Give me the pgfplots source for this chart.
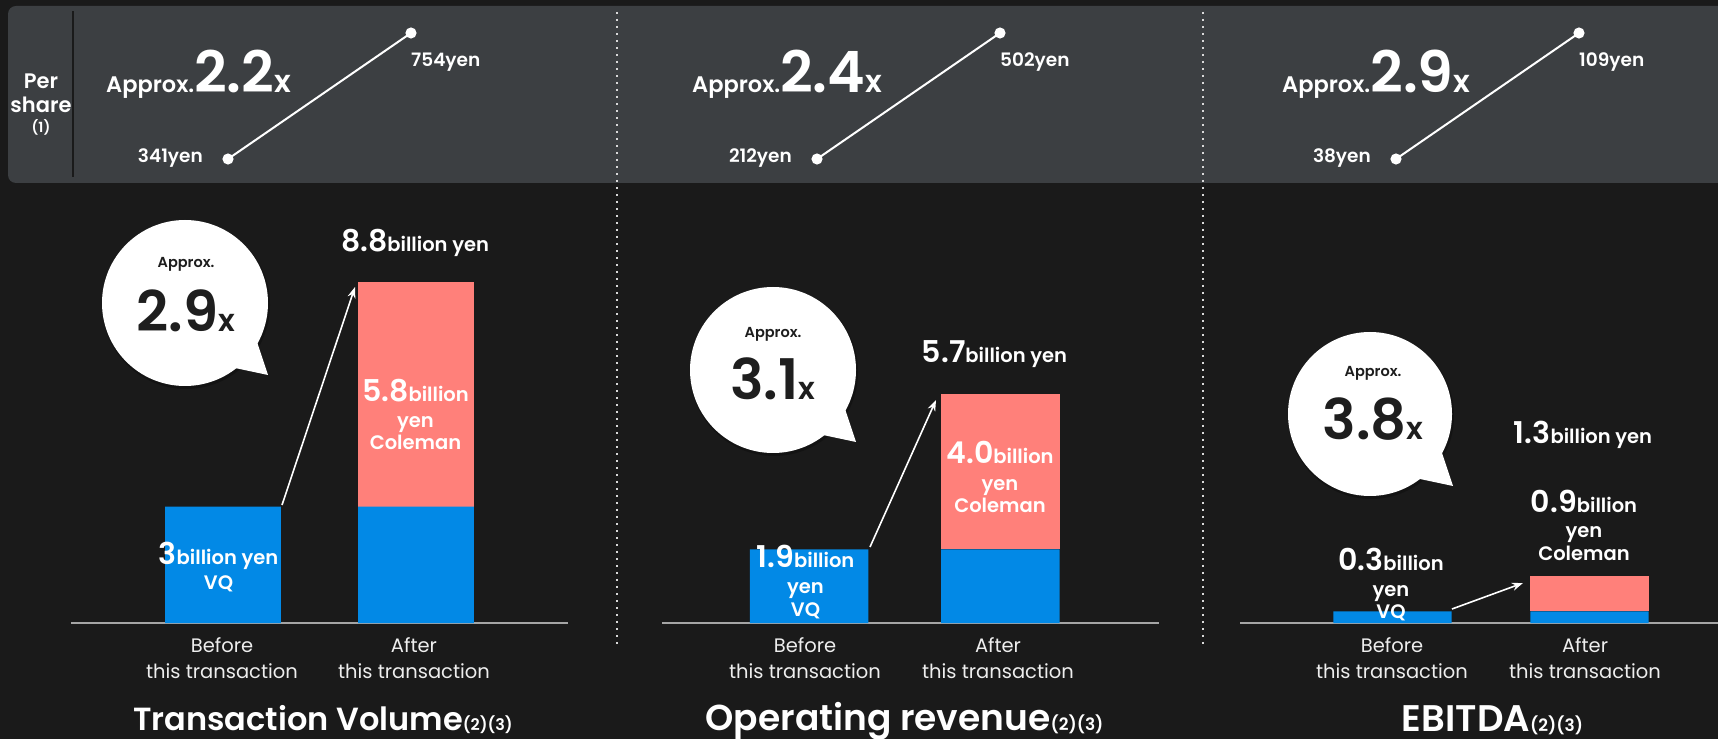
\documentclass[border=0pt]{standalone}
\usepackage{pgfplots}
\pgfplotsset{compat=1.18}
\usepackage{fontspec}
\setmainfont{Poppins}[BoldFont={* SemiBold}]
\usetikzlibrary{arrows.meta}
\definecolor{bg}{RGB}{26,26,26}
\definecolor{panel}{RGB}{60,63,66}
\definecolor{vqblue}{RGB}{2,137,230}
\definecolor{coleman}{RGB}{255,128,122}
\definecolor{basecol}{RGB}{165,165,165}
\definecolor{ink}{RGB}{30,30,30}
\definecolor{soft}{RGB}{238,238,238}
\newcommand{\fs}[1]{\fontsize{#1}{#1}\selectfont}
\newcommand{\lbl}[4]{\node[anchor=base, inner sep=0pt, text=white, font=#4] at (#1pt,{(739-#2)*1pt}) {#3};}
\newcommand{\bl}[2]{{\fs{30}\bfseries #1}{\fs{19.5}\bfseries #2}}
\newcommand{\bubble}[3]{%
  \fill[black, opacity=0.25] ({(#1+1)*1pt},{(#2-2)*1pt}) circle ({(#3+1)*1pt});
  \fill[white] (#1pt,#2pt) circle (#3pt);
  \fill[white] (#1pt,#2pt) -- ({(#1+72)*1pt},{(#2-39)*1pt}) -- ({(#1+83)*1pt},{(#2-72)*1pt}) -- ({(#1+50)*1pt},{(#2-65)*1pt}) -- cycle;}
\newcommand{\bubtext}[4]{%
  \node[anchor=base, inner sep=0pt, text=ink, font=\fs{14.5}\bfseries] at (#1pt,{(739-#2)*1pt}) {Approx.};
  \node[anchor=base, inner sep=0pt, text=ink] at (#1pt,{(739-#3)*1pt}) {{\fs{56}\bfseries #4}{\fs{31}\bfseries x}};}
\pgfplotsset{
  shareaxis/.style={anchor=south west, scale only axis, width=183pt, height=126pt,
    xmin=0, xmax=1, hide axis, clip=false},
  baraxis/.style={anchor=south west, scale only axis, width=497pt, height=388pt,
    ymin=0, ymax=10, hide y axis, axis x line=bottom,
    x axis line style={draw=basecol, line width=2pt, -}, xtick=\empty,
    ybar stacked, clip=false},
}
\begin{document}
\begin{tikzpicture}
\useasboundingbox (0pt,0pt) rectangle (1718pt,739pt);
\fill[bg] (0pt,0pt) rectangle (1718pt,739pt);
\fill[panel, rounded corners=8pt] (8pt,556pt) rectangle (1760pt,733pt);
\draw[line width=2pt, bg] (73pt,562pt) -- (73pt,728pt);
\foreach \xx in {617,1203}{
  \draw[line width=2pt, white!85!black, dash pattern=on 2pt off 5pt] (\xx pt,727pt) -- (\xx pt,93pt);}
% per share
\node[anchor=base, inner sep=0pt, text=white, font=\fs{21}\bfseries] at (41pt,650pt) {Per};
\node[anchor=base, inner sep=0pt, text=white, font=\fs{21}\bfseries] at (41pt,626pt) {share};
\node[anchor=base, inner sep=0pt, text=white, font=\fs{14}\bfseries] at (41pt,606pt) {(1)};

\begin{axis}[shareaxis, at={(228pt,580pt)}, ymin=341, ymax=754]
\addplot[white, line width=2pt, mark=*, mark size=4.5pt, mark options={fill=white}] coordinates {(0,341) (1,754)};
\node[anchor=base west, inner sep=0pt, text=white, font=\fs{18.5}\bfseries, yshift=-34pt] at (axis cs:1,754) {754yen};
\node[anchor=base east, inner sep=0pt, text=white, font=\fs{18.5}\bfseries, xshift=-25pt, yshift=-4pt] at (axis cs:0,341) {341yen};
\end{axis}
\begin{axis}[shareaxis, at={(817pt,580pt)}, ymin=212, ymax=502]
\addplot[white, line width=2pt, mark=*, mark size=4.5pt, mark options={fill=white}] coordinates {(0,212) (1,502)};
\node[anchor=base west, inner sep=0pt, text=white, font=\fs{18.5}\bfseries, yshift=-34pt] at (axis cs:1,502) {502yen};
\node[anchor=base east, inner sep=0pt, text=white, font=\fs{18.5}\bfseries, xshift=-25pt, yshift=-4pt] at (axis cs:0,212) {212yen};
\end{axis}
\begin{axis}[shareaxis, at={(1396pt,580pt)}, ymin=38, ymax=109]
\addplot[white, line width=2pt, mark=*, mark size=4.5pt, mark options={fill=white}] coordinates {(0,38) (1,109)};
\node[anchor=base west, inner sep=0pt, text=white, font=\fs{18.5}\bfseries, yshift=-34pt] at (axis cs:1,109) {109yen};
\node[anchor=base east, inner sep=0pt, text=white, font=\fs{18.5}\bfseries, xshift=-25pt, yshift=-4pt] at (axis cs:0,38) {38yen};
\end{axis}
\node[anchor=base west, inner sep=0pt, text=white] at (106pt,646pt) {{\fs{22.5}\bfseries Approx.}{\fs{57}\bfseries 2.2}{\fs{31}\bfseries x}};
\node[anchor=base west, inner sep=0pt, text=white] at (692pt,646pt) {{\fs{22.5}\bfseries Approx.}{\fs{57}\bfseries 2.4}{\fs{31}\bfseries x}};
\node[anchor=base west, inner sep=0pt, text=white] at (1282pt,646pt) {{\fs{22.5}\bfseries Approx.}{\fs{57}\bfseries 2.9}{\fs{31}\bfseries x}};

% bars
\begin{axis}[baraxis, at={(71pt,116pt)}, xmin=-0.788, xmax=1.788, bar width=0.6]
\addplot[fill=vqblue, draw=none] coordinates {(0,3) (1,3)};
\addplot[fill=coleman, draw=none] coordinates {(0,0) (1,5.8)};
\end{axis}
\begin{axis}[baraxis, at={(662pt,116pt)}, xmin=-0.77, xmax=1.83, bar width=0.62]
\addplot[fill=vqblue, draw=none] coordinates {(0,1.9) (1,1.9)};
\addplot[fill=coleman, draw=none] coordinates {(0,0) (1,4.0)};
\end{axis}
\begin{axis}[baraxis, at={(1240pt,116pt)}, xmin=-0.774, xmax=1.749, bar width=0.6]
\addplot[fill=vqblue, draw=none] coordinates {(0,0.3) (1,0.3)};
\addplot[fill=coleman, draw=none] coordinates {(0,0) (1,0.9)};
\end{axis}

% arrows
\draw[white, line width=1.6pt, -{Stealth[length=11pt, width=8pt]}] (282pt,234pt) -- (355pt,452pt);
\draw[white, line width=1.6pt, -{Stealth[length=11pt, width=8pt]}] (870pt,192pt) -- (936pt,339pt);
\draw[white, line width=1.6pt, -{Stealth[length=11pt, width=8pt]}] (1452pt,130pt) -- (1523pt,156pt);

% bubbles
\bubble{185}{436}{83}
\bubble{773}{369}{83}
\bubble{1370}{325}{82}
\bubtext{186}{268}{332}{2.9}
\bubtext{773}{338}{400}{3.1}
\bubtext{1373}{377}{440}{3.8}

% bar labels
\lbl{415}{252}{\bl{8.8}{billion yen}}{}
\lbl{415.5}{402}{\bl{5.8}{billion}}{}
\lbl{415.5}{428}{yen}{\fs{19.5}\bfseries}
\lbl{415.5}{450}{Coleman}{\fs{19.5}\bfseries}
\lbl{218.5}{565}{\bl{3}{billion yen}}{}
\lbl{218.5}{590}{VQ}{\fs{19.5}\bfseries}

\lbl{994.5}{363}{\bl{5.7}{billion yen}}{}
\lbl{1000}{464}{\bl{4.0}{billion}}{}
\lbl{1000}{491}{yen}{\fs{19.5}\bfseries}
\lbl{1000}{513}{Coleman}{\fs{19.5}\bfseries}
\lbl{805.5}{568}{\bl{1.9}{billion}}{}
\lbl{805.5}{594}{yen}{\fs{19.5}\bfseries}
\lbl{805.5}{617}{VQ}{\fs{19.5}\bfseries}

\lbl{1583}{444}{\bl{1.3}{billion yen}}{}
\lbl{1584}{513}{\bl{0.9}{billion}}{}
\lbl{1584}{538}{yen}{\fs{19.5}\bfseries}
\lbl{1584}{561}{Coleman}{\fs{19.5}\bfseries}
\lbl{1391}{571}{\bl{0.3}{billion}}{}
\lbl{1391}{597}{yen}{\fs{19.5}\bfseries}
\lbl{1391}{618}{VQ}{\fs{19.5}\bfseries}

% category labels
\foreach \cx/\lab in {222/Before,414/After,805/Before,998/After,1392/Before,1585/After}{
  \node[anchor=base, inner sep=0pt, text=soft, font=\fs{19.5}] at (\cx pt,87pt) {\lab};
  \node[anchor=base, inner sep=0pt, text=soft, font=\fs{19.5}] at (\cx pt,61pt) {this transaction};}

% titles
\node[anchor=base, inner sep=0pt, text=white] at (323pt,9pt) {{\fs{32}\bfseries Transaction Volume}{\fs{16}\bfseries (2)(3)}};
\node[anchor=base, inner sep=0pt, text=white] at (904.5pt,9pt) {{\fs{36}\bfseries Operating revenue}{\fs{17}\bfseries (2)(3)}};
\node[anchor=base, inner sep=0pt, text=white] at (1492.5pt,8pt) {{\fs{37}\bfseries EBITDA}{\fs{17}\bfseries (2)(3)}};
\end{tikzpicture}
\end{document}
